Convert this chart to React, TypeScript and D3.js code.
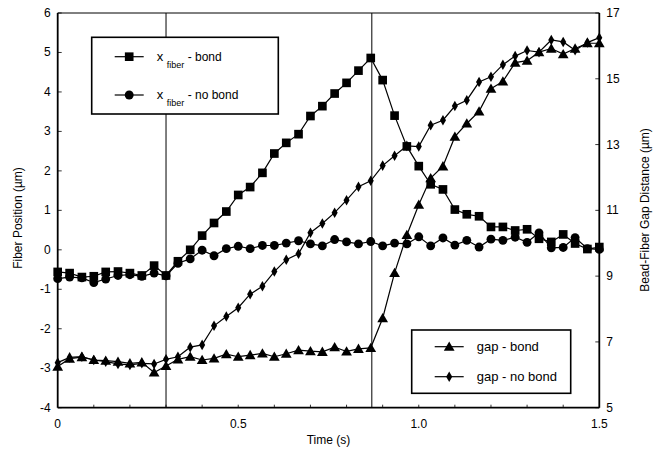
import { useEffect, useRef } from 'react';
import * as d3 from 'd3';

// time samples (s), ~30 frames per second
const times = [
    0, 0.033, 0.067, 0.1, 0.133, 0.167, 0.2, 0.233, 0.267, 0.3,
    0.333, 0.367, 0.4, 0.433, 0.467, 0.5, 0.533, 0.567, 0.6, 0.633,
    0.667, 0.7, 0.733, 0.767, 0.8, 0.833, 0.867, 0.9, 0.933, 0.967,
    1.0, 1.033, 1.067, 1.1, 1.133, 1.167, 1.2, 1.233, 1.267, 1.3,
    1.333, 1.367, 1.4, 1.433, 1.467, 1.5
];

// fiber position (um), left axis
const fiberBond = [
    -0.56, -0.59, -0.69, -0.67, -0.56, -0.55, -0.59, -0.65, -0.40, -0.65,
    -0.29, 0.0, 0.36, 0.68, 0.97, 1.39, 1.59, 1.95, 2.44, 2.71,
    2.93, 3.39, 3.64, 3.96, 4.23, 4.54, 4.86, 4.30, 3.40, 2.62,
    2.12, 1.66, 1.53, 1.02, 0.90, 0.85, 0.58, 0.58, 0.49, 0.52,
    0.28, 0.20, 0.39, 0.16, 0.02, 0.07
];
const fiberNoBond = [
    -0.73, -0.69, -0.71, -0.83, -0.74, -0.65, -0.63, -0.67, -0.59, -0.66,
    -0.34, -0.23, -0.01, -0.15, 0.03, 0.09, 0.03, 0.11, 0.11, 0.17,
    0.23, 0.15, 0.10, 0.26, 0.20, 0.15, 0.21, 0.10, 0.17, 0.15,
    0.33, 0.10, 0.30, 0.12, 0.24, 0.07, 0.27, 0.24, 0.32, 0.19,
    0.43, 0.05, 0.06, 0.31, 0.03, 0.01
];

// bead-fiber gap distance (um), right axis
const gapBond = [
    6.25, 6.49, 6.54, 6.45, 6.43, 6.40, 6.35, 6.38, 6.07, 6.27,
    6.47, 6.55, 6.45, 6.50, 6.63, 6.55, 6.60, 6.65, 6.55, 6.64,
    6.75, 6.72, 6.70, 6.84, 6.71, 6.79, 6.82, 7.72, 9.10, 10.25,
    11.17, 11.98, 12.34, 13.24, 13.64, 14.01, 14.70, 14.92, 15.49, 15.55,
    15.81, 15.92, 15.75, 15.92, 16.08, 16.08
];
const gapNoBond = [
    6.37, 6.53, 6.55, 6.45, 6.40, 6.33, 6.30, 6.35, 6.33, 6.47,
    6.55, 6.84, 6.91, 7.49, 7.77, 8.04, 8.45, 8.69, 9.14, 9.50,
    9.68, 10.32, 10.60, 10.93, 11.31, 11.72, 11.90, 12.36, 12.66, 12.96,
    12.94, 13.59, 13.74, 14.17, 14.35, 14.90, 15.06, 15.43, 15.69, 15.86,
    15.81, 16.18, 16.12, 15.87, 16.10, 16.25
];

// event markers (s)
const eventTimes = [0.3, 0.87];

const xTicks = [0, 0.5, 1.0, 1.5];
const xTickLabels = ['0', '0.5', '1.0', '1.5'];
const leftTicks = [-4, -3, -2, -1, 0, 1, 2, 3, 4, 5, 6];
const rightTicks = [5, 7, 9, 11, 13, 15, 17];

export default function App() {
    const ref = useRef<SVGSVGElement>(null);

    useEffect(() => {
        const width = 661;
        const height = 451;
        const left = 57.7;
        const right = 599.3;
        const top = 13;
        const bottom = 407.7;
        const font = "'Liberation Sans', Arial, sans-serif";

        const svg = d3.select(ref.current);
        svg.selectAll('*').remove();
        svg.attr('width', width).attr('height', height);

        svg.append('rect').attr('width', width).attr('height', height).attr('fill', '#fff');

        // scales
        const x_scale = d3.scaleLinear().domain([0, 1.5]).range([left, right]);
        const y_left = d3.scaleLinear().domain([-4, 6]).range([bottom, top]);
        const y_right = d3.scaleLinear().domain([5, 17]).range([bottom, top]);

        // event lines
        svg.selectAll('.event')
            .data(eventTimes).enter()
            .append('line')
            .attr('x1', d => x_scale(d)).attr('x2', d => x_scale(d))
            .attr('y1', top).attr('y2', bottom)
            .attr('stroke', '#000').attr('stroke-width', 1);

        // minor ticks
        const g = svg.append('g');
        g.selectAll('.xminor')
            .data(d3.range(1, 15).map(i => i / 10)).enter()
            .append('line')
            .attr('x1', d => x_scale(d)).attr('x2', d => x_scale(d))
            .attr('y1', bottom).attr('y2', bottom - 3)
            .attr('stroke', '#000').attr('stroke-width', 0.8);
        g.selectAll('.ytick')
            .data(leftTicks).enter()
            .append('line')
            .attr('x1', left).attr('x2', left + 4)
            .attr('y1', d => y_left(d)).attr('y2', d => y_left(d))
            .attr('stroke', '#000').attr('stroke-width', 0.8);
        g.selectAll('.rtick')
            .data(rightTicks).enter()
            .append('line')
            .attr('x1', right).attr('x2', right - 4)
            .attr('y1', d => y_right(d)).attr('y2', d => y_right(d))
            .attr('stroke', '#000').attr('stroke-width', 0.8);

        // frame
        svg.append('line').attr('x1', left).attr('x2', right).attr('y1', top).attr('y2', top)
            .attr('stroke', '#000').attr('stroke-width', 1);
        svg.append('line').attr('x1', left).attr('x2', right).attr('y1', bottom).attr('y2', bottom)
            .attr('stroke', '#000').attr('stroke-width', 1.8);
        svg.append('line').attr('x1', left).attr('x2', left).attr('y1', top).attr('y2', bottom)
            .attr('stroke', '#000').attr('stroke-width', 1.8);
        svg.append('line').attr('x1', right).attr('x2', right).attr('y1', top).attr('y2', bottom)
            .attr('stroke', '#000').attr('stroke-width', 1.8);

        // tick labels
        svg.selectAll('.xlab')
            .data(xTicks).enter()
            .append('text')
            .attr('x', d => x_scale(d)).attr('y', bottom + 20)
            .attr('text-anchor', 'middle')
            .style('font-family', font).style('font-size', '12px')
            .text((d, i) => xTickLabels[i]);
        svg.selectAll('.ylab')
            .data(leftTicks).enter()
            .append('text')
            .attr('x', left - 7).attr('y', d => y_left(d) + 4)
            .attr('text-anchor', 'end')
            .style('font-family', font).style('font-size', '12px')
            .text(d => d);
        svg.selectAll('.rlab')
            .data(rightTicks).enter()
            .append('text')
            .attr('x', right + 7).attr('y', d => y_right(d) + 4)
            .attr('text-anchor', 'start')
            .style('font-family', font).style('font-size', '12px')
            .text(d => d);

        // axis titles
        svg.append('text')
            .attr('x', (left + right) / 2).attr('y', 444)
            .attr('text-anchor', 'middle')
            .style('font-family', font).style('font-size', '12px')
            .text('Time (s)');
        svg.append('text')
            .attr('transform', 'translate(22, 218) rotate(-90)')
            .attr('text-anchor', 'middle')
            .style('font-family', font).style('font-size', '12px')
            .text('Fiber Position (µm)');
        svg.append('text')
            .attr('transform', 'translate(649, 210) rotate(-90)')
            .attr('text-anchor', 'middle')
            .style('font-family', font).style('font-size', '12px')
            .text('Bead-Fiber Gap Distance (µm)');

        // marker shapes
        const shapes: Record<string, d3.SymbolType> = {
            square: d3.symbolSquare,
            circle: d3.symbolCircle,
            triangle: d3.symbolTriangle,
            diamond: d3.symbolDiamond
        };
        const sizes: Record<string, number> = {
            square: 75, circle: 62, triangle: 50, diamond: 32
        };

        const series = [
            { values: fiberBond, y: y_left, shape: 'square' },
            { values: fiberNoBond, y: y_left, shape: 'circle' },
            { values: gapBond, y: y_right, shape: 'triangle' },
            { values: gapNoBond, y: y_right, shape: 'diamond' }
        ];

        series.forEach(function(s) {
            const pts = times.map((t, i) => [t, s.values[i]] as [number, number]);
            const line = d3.line<[number, number]>()
                .x(d => x_scale(d[0]))
                .y(d => s.y(d[1]));
            svg.append('path')
                .datum(pts)
                .attr('d', line)
                .attr('fill', 'none')
                .attr('stroke', '#000')
                .attr('stroke-width', 1.2);
            const sym = d3.symbol().type(shapes[s.shape]).size(sizes[s.shape]);
            svg.selectAll('.m-' + s.shape)
                .data(pts).enter()
                .append('path')
                .attr('d', sym)
                .attr('transform', d => 'translate(' + x_scale(d[0]) + ',' + (s.y(d[1]) + (s.shape === 'triangle' ? 1 : 0)) + ')')
                .attr('fill', '#000');
        });

        // legends
        function legend(x0: number, y0: number, w: number, h: number, items: { shape: string, label: string, sub?: string, rest?: string, y: number }[]) {
            svg.append('rect')
                .attr('x', x0).attr('y', y0).attr('width', w).attr('height', h)
                .attr('fill', '#fff').attr('stroke', '#000').attr('stroke-width', 1.6);
            items.forEach(function(it) {
                svg.append('line')
                    .attr('x1', x0 + 23).attr('x2', x0 + 52)
                    .attr('y1', it.y).attr('y2', it.y)
                    .attr('stroke', '#000').attr('stroke-width', 1.2);
                svg.append('path')
                    .attr('d', d3.symbol().type(shapes[it.shape]).size(sizes[it.shape])())
                    .attr('transform', 'translate(' + (x0 + 37.5) + ',' + (it.y + (it.shape === 'triangle' ? 1 : 0)) + ')')
                    .attr('fill', '#000');
                const t = svg.append('text')
                    .attr('x', x0 + 65).attr('y', it.y + 4)
                    .style('font-family', font).style('font-size', '12px');
                t.append('tspan').style('font-size', '13px').text(it.label);
                if (it.sub) {
                    t.append('tspan').attr('dy', 7).style('font-size', '9px').text(it.sub);
                    t.append('tspan').attr('dy', -7).text(it.rest || '');
                }
            });
        }

        legend(91.7, 37.3, 186.6, 76.7, [
            { shape: 'square', label: 'x ', sub: 'fiber', rest: ' - bond', y: 56.7 },
            { shape: 'circle', label: 'x ', sub: 'fiber', rest: ' - no bond', y: 95 }
        ]);
        legend(411.7, 330, 159, 63.3, [
            { shape: 'triangle', label: 'gap - bond', y: 346.7 },
            { shape: 'diamond', label: 'gap - no bond', y: 376.7 }
        ]);
    }, []);

    return (
        <svg ref={ref} style={{ position: 'absolute', left: 0, top: 0, display: 'block' }} />
    );
}
